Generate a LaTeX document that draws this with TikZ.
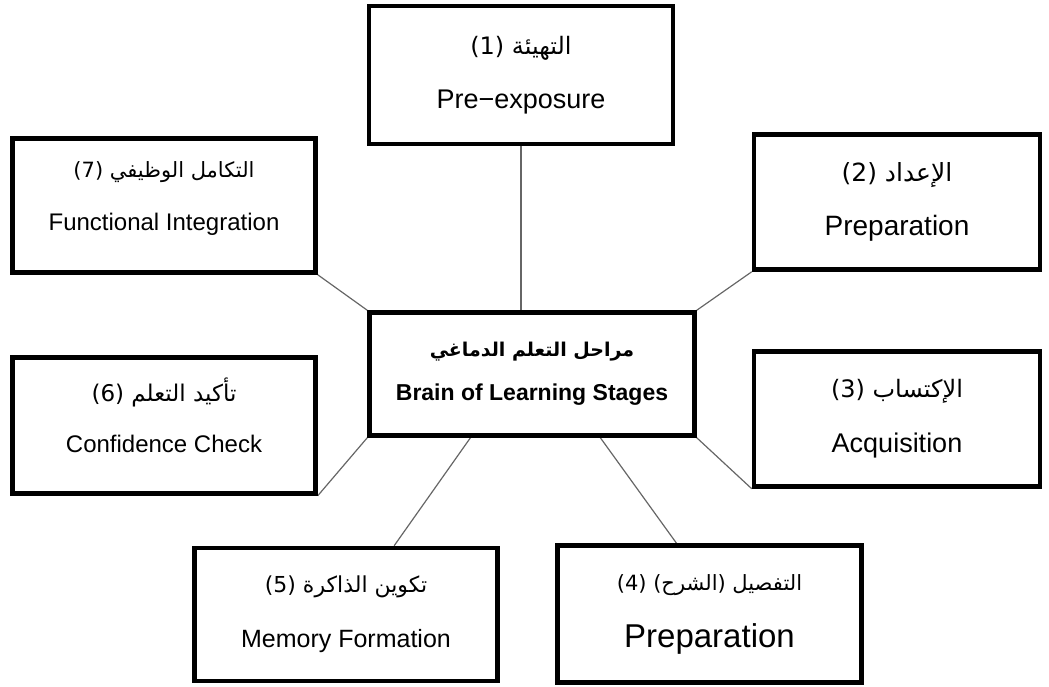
\documentclass[tikz,border=0pt]{standalone}
\usepackage{fontspec}
\setmainfont{Liberation Sans}
\newfontfamily\arabicfont[Script=Arabic]{DejaVu Sans}
\TeXXeTstate=1
\usetikzlibrary{backgrounds}
\newcommand{\artext}[2][22]{{\arabicfont\fontsize{#1}{#1}\selectfont\beginR #2\endR}}
\newcommand{\stagesize}[1]{\fontsize{#1}{#1}\selectfont}

\begin{document}
\begin{tikzpicture}[x=1pt, y=-1pt,
  stage/.style={draw, line width=4.5pt, align=center, inner sep=0pt, fill=white},
  link/.style={line width=1.2pt, black!60}
]
  \useasboundingbox (0,0) rectangle (1049,686);
  \node[stage, minimum width=304pt, minimum height=138pt, font=\stagesize{27}] (pre) at (521,75)
    {\artext[24]{التهيئة \beginL(1)\endL}\\[27pt]Pre−exposure};
  \node[stage, minimum width=303pt, minimum height=134pt, font=\stagesize{24}] (integ) at (164,205.5)
    {\artext[21]{التكامل الوظيفي \beginL(7)\endL}\\[29pt]Functional Integration\\[-6pt]\mbox{}};
  \node[stage, minimum width=286pt, minimum height=135pt, font=\stagesize{28}] (prep) at (897,202)
    {\artext[25]{الإعداد \beginL(2)\endL}\\[26pt]Preparation};
  \node[stage, minimum width=325pt, minimum height=123pt, font=\bfseries\stagesize{23}] (hub) at (532,374)
    {\artext[19]{مراحل التعلم الدماغي}\\[21pt]Brain of Learning Stages};
  \node[stage, minimum width=303pt, minimum height=136pt, font=\stagesize{24}] (conf) at (164,425.5)
    {\artext[23]{تأكيد التعلم \beginL(6)\endL}\\[27pt]Confidence Check\\[-4pt]\mbox{}};
  \node[stage, minimum width=286pt, minimum height=135pt, font=\stagesize{27}] (acq) at (897,419)
    {\artext[24]{الإكتساب \beginL(3)\endL}\\[28pt]Acquisition};
  \node[stage, minimum width=303pt, minimum height=133pt, font=\stagesize{25}] (mem) at (346,614.5)
    {\artext[22]{تكوين الذاكرة \beginL(5)\endL}\\[30pt]Memory Formation};
  \node[stage, minimum width=304pt, minimum height=137pt, font=\stagesize{33}] (elab) at (709.5,614)
    {\artext[21]{التفصيل (الشرح) \beginL(4)\endL}\\[24pt]Preparation};

  \begin{scope}[on background layer]
    \draw[link] (pre.south) -- (pre.south |- hub.north);
    \draw[link] (integ.south east) -- (hub.north west);
    \draw[link] (hub.north east) -- (prep.south west);
    \draw[link] (hub.south west) -- (conf.south east);
    \draw[link] (hub.south east) -- (acq.south west);
    \draw[link] (hub.226) -- (mem.55);
    \draw[link] (hub.317) -- (elab.115);
  \end{scope}
\end{tikzpicture}
\end{document}
